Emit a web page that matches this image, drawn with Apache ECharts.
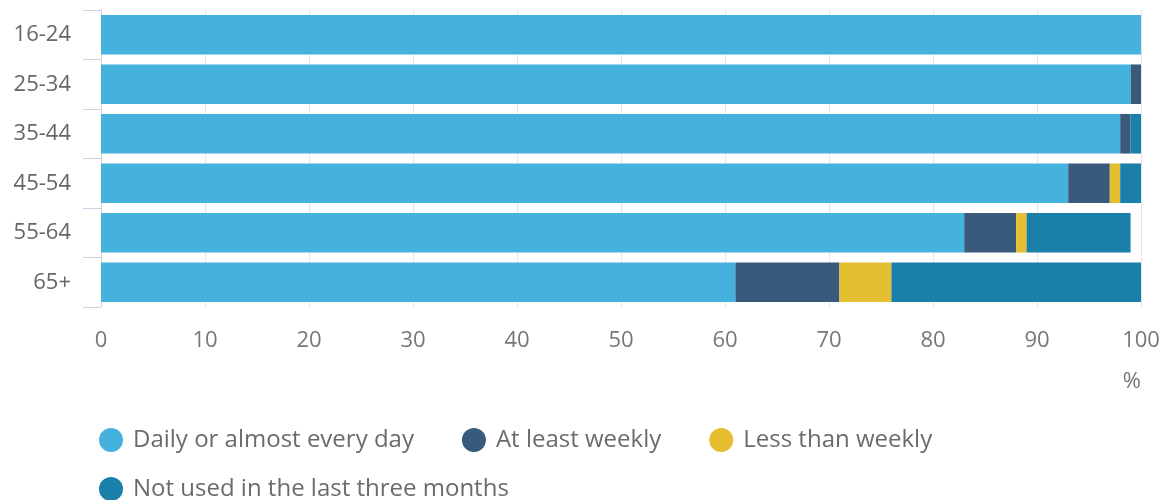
<!DOCTYPE html>
<html>
<head>
<meta charset="utf-8">
<script src="https://cdn.jsdelivr.net/npm/echarts@6/dist/echarts.min.js"></script>
<style>
    html, body { margin: 0; padding: 0; background: #fff; }
    #chart { width: 1163px; height: 500px; }
</style>
</head>
<body>
<div id="chart"></div>
<script>
"use strict";

var ageGroups = ['16-24', '25-34', '35-44', '45-54', '55-64', '65+'];
var daily = [100, 99, 98, 93, 83, 61];
var weekly = [0, 1, 1, 4, 5, 10];
var lessThanWeekly = [0, 0, 0, 1, 1, 5];
var notUsed = [0, 0, 1, 2, 10, 24];

var seriesNames = ['Daily or almost every day', 'At least weekly', 'Less than weekly', 'Not used in the last three months'];
var seriesColors = ['#45b1dd', '#3a5a7c', '#e5bf31', '#1a80aa'];
var seriesData = [daily, weekly, lessThanWeekly, notUsed];

var chart = echarts.init(document.getElementById('chart'));
chart.setOption({
    animation: false,
    textStyle: { fontFamily: 'Open Sans' },
    grid: {
        left: 101,
        right: 22,
        top: 10,
        bottom: 193
    },
    legend: {
        left: 94,
        top: 423,
        width: 900,
        icon: 'circle',
        itemWidth: 24,
        itemHeight: 24,
        itemGap: 25,
        textStyle: {
            fontSize: 24,
            color: '#6b6b6b',
            lineHeight: 24,
            padding: [0, 23, 0, 5]
        },
        data: seriesNames
    },
    xAxis: {
        type: 'value',
        min: 0,
        max: 100,
        interval: 10,
        name: '%',
        nameLocation: 'end',
        nameGap: 0,
        nameTextStyle: {
            fontSize: 22,
            color: '#777',
            align: 'right',
            verticalAlign: 'top',
            padding: [64, 0, 0, 0]
        },
        axisLine: { show: false },
        axisTick: { show: false },
        axisLabel: { fontSize: 22, color: '#777', margin: 23 },
        splitLine: { lineStyle: { color: '#e6e6e6' } }
    },
    yAxis: {
        type: 'category',
        inverse: true,
        data: ageGroups,
        axisLine: { show: true, lineStyle: { color: '#cfd0e4', width: 1 } },
        axisTick: { show: true, length: 18, lineStyle: { color: '#cfd0e4', width: 1 } },
        axisLabel: { fontSize: 22, color: '#666', margin: 30, padding: [4, 0, 0, 0] }
    },
    series: seriesNames.map(function (name, i) {
        return {
            name: name,
            type: 'bar',
            stack: 'total',
            barWidth: '80%',
            color: seriesColors[i],
            data: seriesData[i]
        };
    })
});
</script>
</body>
</html>
